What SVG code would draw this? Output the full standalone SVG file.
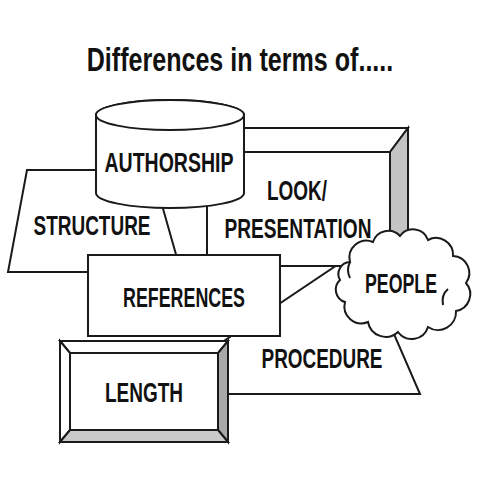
<svg xmlns="http://www.w3.org/2000/svg" width="480" height="480" viewBox="0 0 480 480">
<style>
.s{fill:#fff;stroke:#1a1a1a;stroke-width:2;stroke-linejoin:miter}
.t{font-family:"Liberation Sans",Arial,sans-serif;font-weight:bold;font-size:27px;fill:#111;text-anchor:middle}
</style>
<rect width="480" height="480" fill="#fff"/>
<text class="t" transform="translate(240,71) scale(0.76,1)" x="0" y="0" style="font-size:33px">Differences in terms of.....</text>
<g id="connectors"></g>
<g id="structure">
<polygon class="s" points="27,170 152,170 181,272 8,272"/>
<text class="t" x="92" y="235" textLength="117" lengthAdjust="spacingAndGlyphs">STRUCTURE</text>
</g>
<g id="procedure">
<polygon class="s" points="145,394 420,394 358,251"/>
<text class="t" x="322" y="368" textLength="121" lengthAdjust="spacingAndGlyphs">PROCEDURE</text>
</g>
<g id="look">
<polygon class="s" points="207,152 225,128 408,128 390,152"/>
<polygon class="s" points="390,152 408,128 408,242 390,266" style="fill:#c4c4c4"/>
<rect class="s" x="207" y="152" width="183" height="114"/>
<text class="t" x="297" y="200" textLength="60" lengthAdjust="spacingAndGlyphs">LOOK/</text>
<text class="t" x="298" y="238" textLength="147" lengthAdjust="spacingAndGlyphs">PRESENTATION</text>
</g>
<g id="authorship">
<path class="s" d="M96,115 V193 A74,15 0 0 0 244,193 V115 A74,15 0 0 0 96,115 Z"/>
<ellipse class="s" cx="170" cy="115" rx="74" ry="15"/>
<text class="t" x="169" y="172" textLength="129" lengthAdjust="spacingAndGlyphs">AUTHORSHIP</text>
</g>
<g id="references">
<rect class="s" x="88" y="255" width="192" height="81"/>
<text class="t" x="184" y="307" textLength="122" lengthAdjust="spacingAndGlyphs">REFERENCES</text>
</g>
<g id="length">
<polygon class="s" points="60,341 228,341 218,353 70,353"/>
<polygon class="s" points="60,341 70,353 70,430 60,442"/>
<polygon class="s" points="228,341 228,442 218,430 218,353" style="fill:#a8a8a8"/>
<polygon class="s" points="60,442 228,442 218,430 70,430" style="fill:#cacaca"/>
<rect class="s" x="70" y="353" width="148" height="77"/>
<text class="t" x="144" y="402" textLength="78" lengthAdjust="spacingAndGlyphs">LENGTH</text>
</g>
<g id="people">
<path class="s" d="M350,262 A17,17 0 0 1 373,242 A16,16 0 0 1 400,236 A16,16 0 0 1 428,240 A17,17 0 0 1 453,256 A17,17 0 0 1 466,283 A17,17 0 0 1 456,311 A18,18 0 0 1 428,327 A17,17 0 0 1 398,332 A18,18 0 0 1 368,322 A17,17 0 0 1 345,302 A13,13 0 0 1 340,280 A12,12 0 0 1 350,262 Z"/>
<path d="M448,289 Q441,295 443,305 M350,262 Q346,270 350,278" fill="none" stroke="#1a1a1a" stroke-width="2"/>
<text class="t" x="401" y="293" textLength="72" lengthAdjust="spacingAndGlyphs">PEOPLE</text>
</g>
</svg>
